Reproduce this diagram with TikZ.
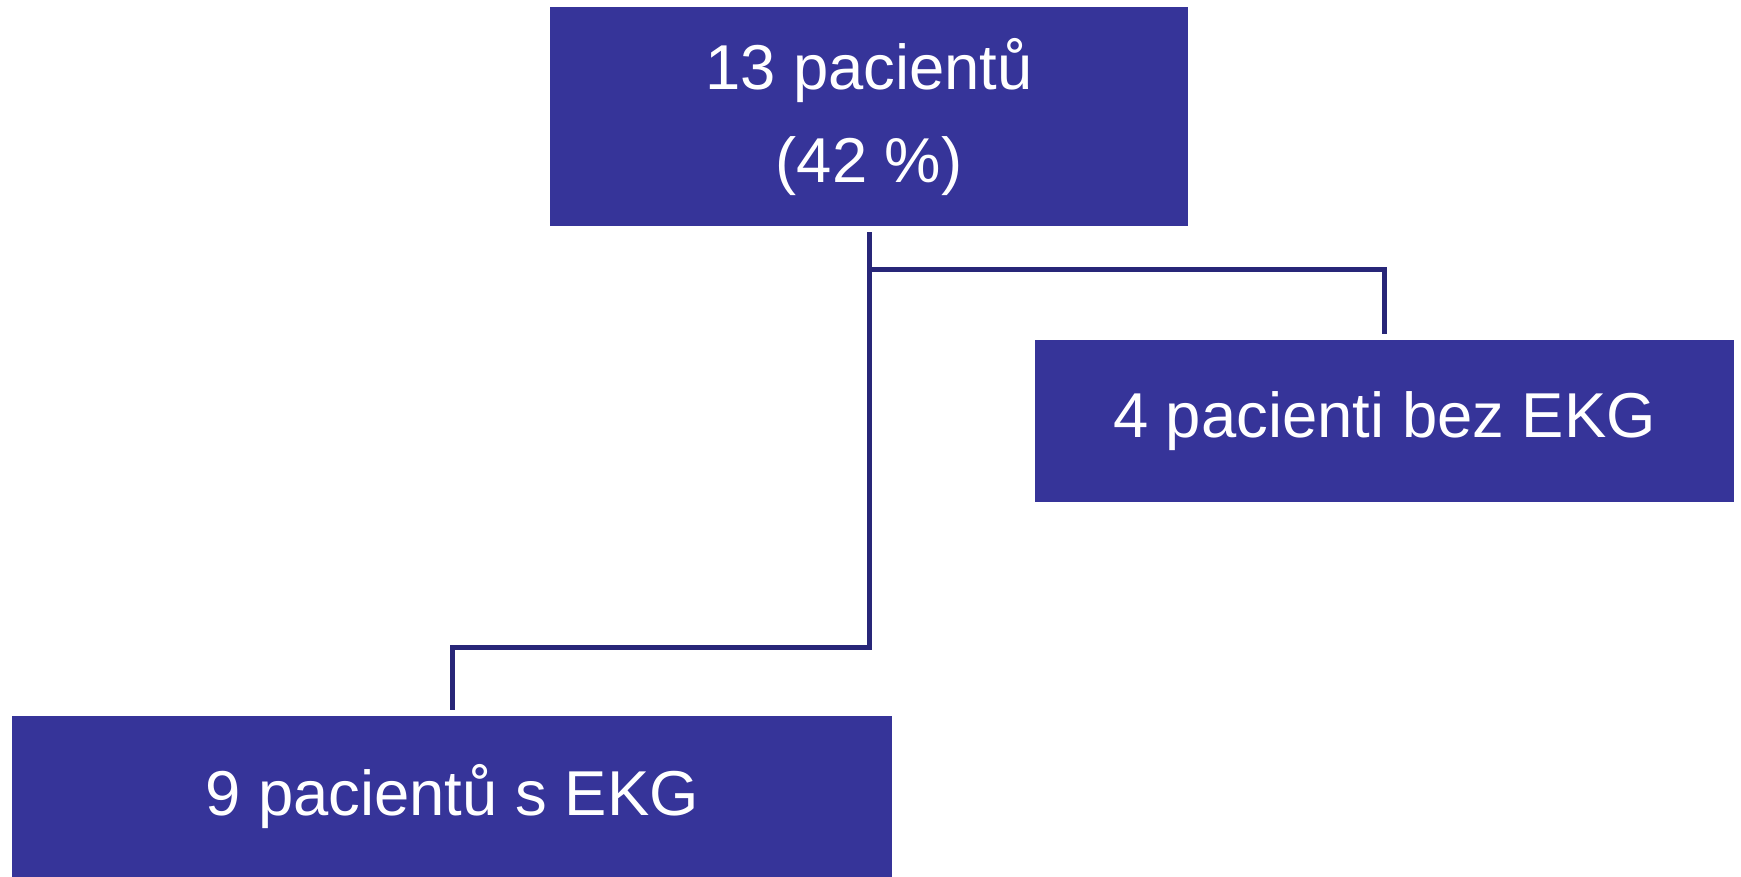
\documentclass[tikz,border=0pt]{standalone}
\usepackage{fontspec}
\setmainfont{Liberation Sans}
\definecolor{boxblue}{RGB}{54,52,153}
\definecolor{linkblue}{RGB}{40,38,120}

\begin{document}
\begin{tikzpicture}[x=1pt,y=-1pt,
  pbox/.style={fill=boxblue,text=white,inner sep=0pt,align=center,
    font=\fontsize{63.4}{93}\selectfont},
  link/.style={draw=linkblue,line width=5pt,shorten <=5.5pt,shorten >=6pt}]

  \useasboundingbox (0,0) rectangle (1741,877);

  \draw (869,116.75) node[pbox,minimum width=638pt,minimum height=219.5pt] (top) {13 pacientů\\(42 \%)};
\draw (1384.5,421) node[pbox,minimum width=699pt,minimum height=162pt] (right) {4 pacienti bez EKG};
\draw (452,796.5) node[pbox,minimum width=880pt,minimum height=161pt] (bottom) {9 pacientů s EKG};


  \draw[link] (top.south) -- ++(0,43) -| (right.north);
  \draw[link] (top.south) -- ++(0,421) -| (bottom.north);

\end{tikzpicture}
\end{document}
